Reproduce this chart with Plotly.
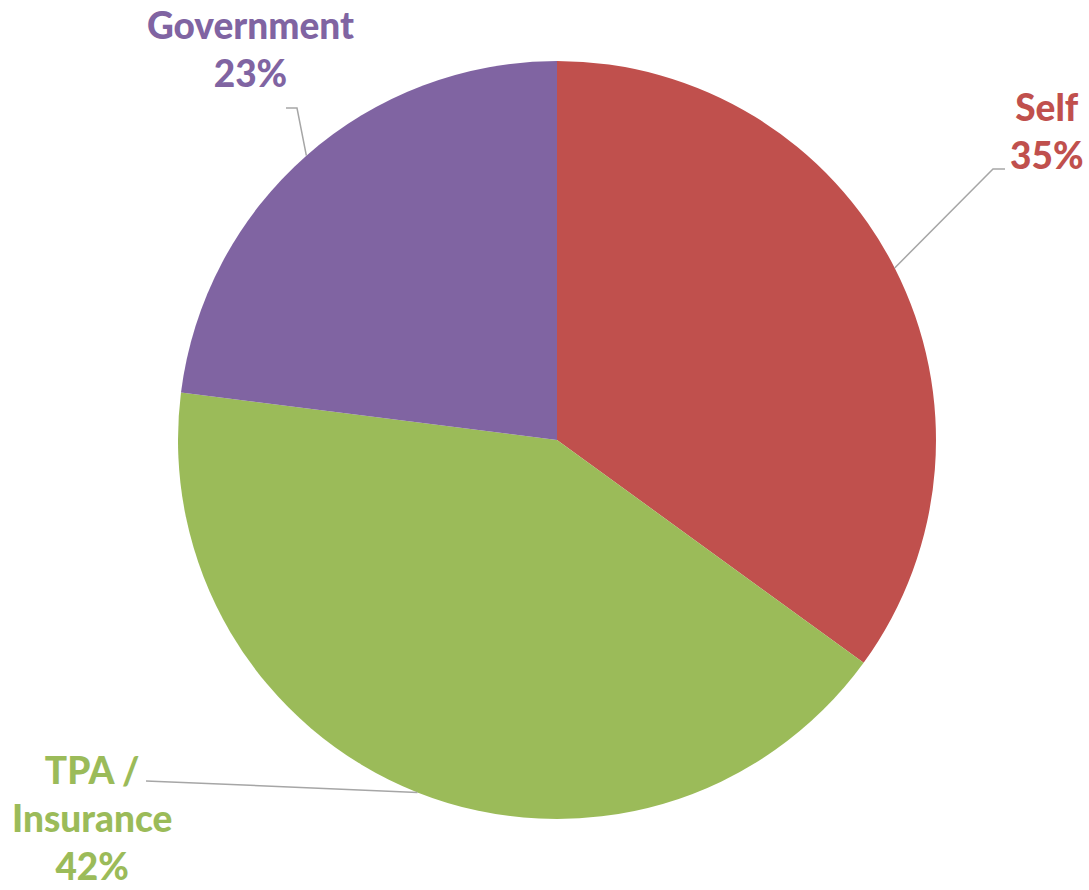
import math
import plotly.graph_objects as go

# ---- data ----
labels = ["Self", "TPA / Insurance", "Government"]
label_text = ["Self", "TPA /<br>Insurance", "Government"]
values = [35, 42, 23]
colors = ["#C0504D", "#9BBB59", "#8064A2"]

# ---- layout constants (pixels) ----
W, H = 1089, 890
CX, CY, R = 557, 440, 379
# label centres and leader-line elbows / ends (style positions)
label_pos = [(1047, 131), (92, 817), (250, 49)]
elbow_pos = [(993, 169), (146, 781), (297, 108)]
end_pos = [(1005, 169), (146, 781), (286, 108)]


def px(x, y):
    return x / W, 1 - y / H


fig = go.Figure()
fig.add_trace(go.Pie(
    labels=labels,
    values=values,
    sort=False,
    direction="clockwise",
    rotation=0,
    marker=dict(colors=colors, line=dict(width=0)),
    textinfo="none",
    hoverinfo="label+percent",
    showlegend=False,
    domain=dict(x=[(CX - R) / W, (CX + R) / W], y=[(H - CY - R) / H, (H - CY + R) / H]),
))

total = sum(values)
start = 90.0
shapes = []
annotations = []
for i, v in enumerate(values):
    sweep = 360.0 * v / total
    mid = start - sweep / 2
    start -= sweep
    ex = CX + R * math.cos(math.radians(mid))
    ey = CY - R * math.sin(math.radians(mid))
    p0 = px(ex, ey)
    p1 = px(*elbow_pos[i])
    p2 = px(*end_pos[i])
    shapes.append(dict(
        type="path", xref="paper", yref="paper",
        path=f"M {p0[0]} {p0[1]} L {p1[0]} {p1[1]} L {p2[0]} {p2[1]}",
        line=dict(color="#A6A6A6", width=1.5),
    ))
    pct = round(100 * v / total)
    lx, ly = px(*label_pos[i])
    annotations.append(dict(
        x=lx, y=ly, xref="paper", yref="paper",
        xanchor="center", yanchor="middle",
        text=f"{label_text[i]}<br>{pct}%",
        showarrow=False, align="center", borderpad=0,
        font=dict(family="Lato, Open Sans, sans-serif", size=37, weight=900, color=colors[i]),
    ))

fig.update_layout(
    width=W, height=H,
    margin=dict(l=0, r=0, t=0, b=0),
    paper_bgcolor="white",
    plot_bgcolor="white",
    shapes=shapes,
    annotations=annotations,
)

fig.write_html("out.html")
